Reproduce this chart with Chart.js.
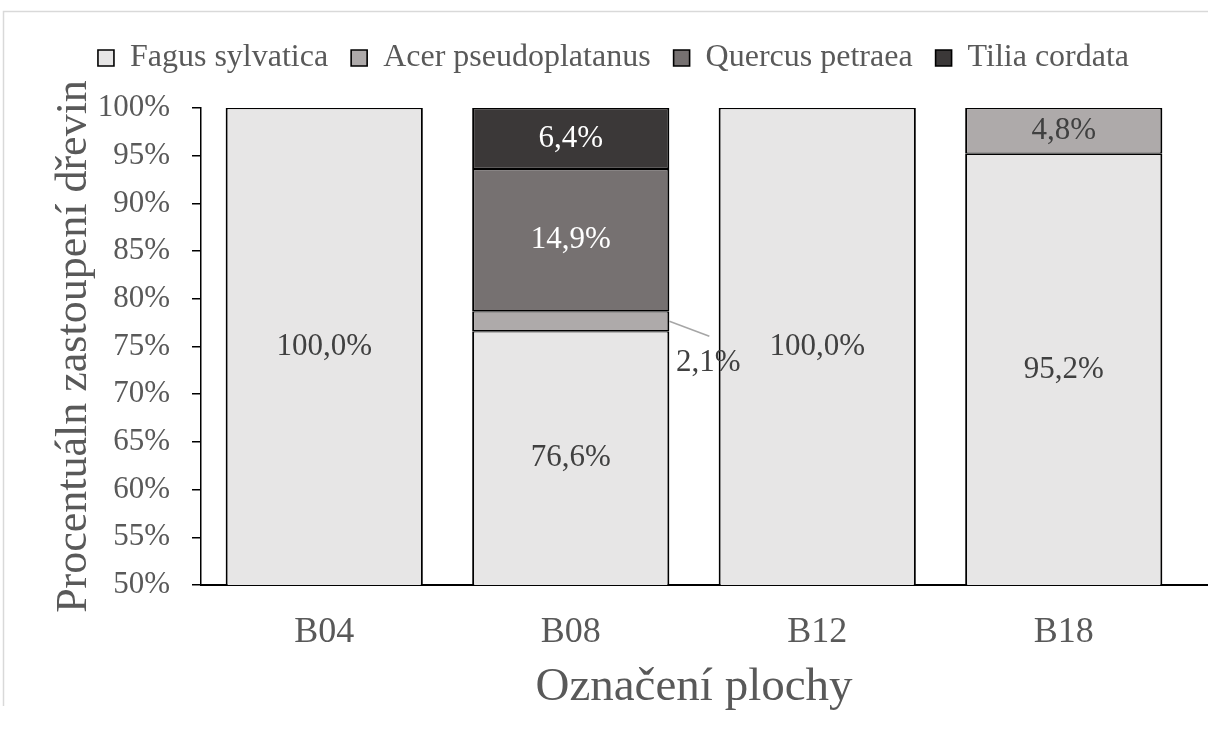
<!DOCTYPE html>
<html>
<head>
<meta charset="utf-8">
<script src="https://cdn.jsdelivr.net/npm/chart.js@4.4.1/dist/chart.umd.min.js"></script>
<style>
  body { margin: 0; background: #ffffff; }
  #wrap { width: 1208px; height: 734px; position: relative; }
</style>
</head>
<body>
<div id="wrap"><canvas id="chart"></canvas></div>
<script>
const plots = ['B04', 'B08', 'B12', 'B18'];
const fagus = [100.0, 76.6, 100.0, 95.2];
const acer = [0, 2.1, 0, 4.8];
const quercus = [0, 14.9, 0, 0];
const tilia = [0, 6.4, 0, 0];

const serif = '"Liberation Serif", "Times New Roman", serif';
const textColor = '#595959';

// outer frame of the chart object (only top and left edges are visible)
const framePlugin = {
    id: 'frame',
    beforeDraw(chart) {
        const ctx = chart.ctx;
        ctx.save();
        ctx.strokeStyle = '#d9d9d9';
        ctx.lineWidth = 1.5;
        ctx.beginPath();
        ctx.moveTo(3.5, 706);
        ctx.lineTo(3.5, 11.5);
        ctx.lineTo(chart.width, 11.5);
        ctx.stroke();
        ctx.restore();
    },
    afterDraw(chart) {
        // category axis line runs on to the edge of the picture
        const ctx = chart.ctx;
        const y = chart.scales.x.top;
        ctx.save();
        ctx.strokeStyle = '#000000';
        ctx.lineWidth = 2;
        ctx.beginPath();
        ctx.moveTo(chart.chartArea.right - 1, y);
        ctx.lineTo(chart.width, y);
        ctx.stroke();
        ctx.restore();
    }
};

// extra room under the legend
const legendSpace = {
    id: 'legendSpace',
    beforeInit(chart) {
        const fit = chart.legend.fit;
        chart.legend.fit = function () {
            fit.bind(chart.legend)();
            this.height += 24;
        };
    }
};

// value labels in the segments, small ones get a leader line
const segmentLabels = {
    id: 'segmentLabels',
    afterDatasetsDraw(chart) {
        const { ctx, chartArea } = chart;
        ctx.save();
        ctx.font = '31px ' + serif;
        ctx.textAlign = 'center';
        ctx.textBaseline = 'middle';
        chart.data.datasets.forEach((ds, di) => {
            const meta = chart.getDatasetMeta(di);
            meta.data.forEach((bar, i) => {
                const v = ds.data[i];
                if (!v) return;
                const top = Math.max(bar.y, chartArea.top);
                const bottom = Math.min(bar.base, chartArea.bottom);
                const cy = (top + bottom) / 2;
                const text = v.toFixed(1).replace('.', ',') + '%';
                if (bottom - top < 30) {
                    const rx = bar.x + bar.width / 2;
                    ctx.strokeStyle = '#a6a6a6';
                    ctx.lineWidth = 1.5;
                    ctx.beginPath();
                    ctx.moveTo(rx, cy);
                    ctx.lineTo(rx + 40, cy + 15);
                    ctx.stroke();
                    ctx.fillStyle = '#404040';
                    ctx.fillText(text, rx + 39, cy + 42);
                } else {
                    ctx.fillStyle = ds.labelColor;
                    ctx.fillText(text, bar.x, cy);
                }
            });
        });
        ctx.restore();
    }
};

new Chart(document.getElementById('chart'), {
    type: 'bar',
    data: {
        labels: plots,
        datasets: [
            { label: 'Fagus sylvatica', data: fagus, backgroundColor: '#e7e6e6', labelColor: '#404040' },
            { label: 'Acer pseudoplatanus', data: acer, backgroundColor: '#aeaaaa', labelColor: '#404040' },
            { label: 'Quercus petraea', data: quercus, backgroundColor: '#767171', labelColor: '#ffffff' },
            { label: 'Tilia cordata', data: tilia, backgroundColor: '#3b3838', labelColor: '#ffffff' }
        ].map(d => Object.assign(d, {
            borderColor: '#000000',
            borderWidth: { top: 1.2, bottom: 1.2, left: 2, right: 2 },
            borderSkipped: false,
            barPercentage: 0.8,
            categoryPercentage: 1.0
        }))
    },
    options: {
        responsive: true,
        maintainAspectRatio: false,
        animation: false,
        layout: {
            padding: { top: 19, left: 40, right: 21, bottom: 0 }
        },
        plugins: {
            legend: {
                position: 'top',
                labels: {
                    color: textColor,
                    font: { family: serif, size: 32 },
                    boxWidth: 16,
                    boxHeight: 16,
                    padding: 23
                }
            },
            tooltip: { enabled: false }
        },
        scales: {
            x: {
                stacked: true,
                grid: { display: false },
                border: { display: true, color: '#000000', width: 2 },
                ticks: {
                    color: textColor,
                    font: { family: serif, size: 36 },
                    padding: 18
                },
                title: {
                    display: true,
                    text: 'Označení plochy',
                    color: textColor,
                    font: { family: serif, size: 47 },
                    padding: { top: 0, bottom: 18 }
                },
                afterFit(scale) { scale.height = 149; }
            },
            y: {
                stacked: true,
                min: 50,
                max: 100,
                grid: {
                    display: true,
                    drawOnChartArea: false,
                    drawTicks: true,
                    tickLength: 9,
                    color: '#000000',
                    lineWidth: 1.5
                },
                border: { display: true, color: '#000000', width: 1.5 },
                ticks: {
                    stepSize: 5,
                    color: textColor,
                    font: { family: serif, size: 31 },
                    padding: 22,
                    callback: v => v + '%'
                },
                title: {
                    display: true,
                    text: 'Procentuáln zastoupení dřevin',
                    color: textColor,
                    font: { family: serif, size: 44 },
                    padding: { top: 8, bottom: 0 }
                },
                afterFit(scale) { scale.width = 161; }
            }
        }
    },
    plugins: [framePlugin, legendSpace, segmentLabels]
});
</script>
</body>
</html>
